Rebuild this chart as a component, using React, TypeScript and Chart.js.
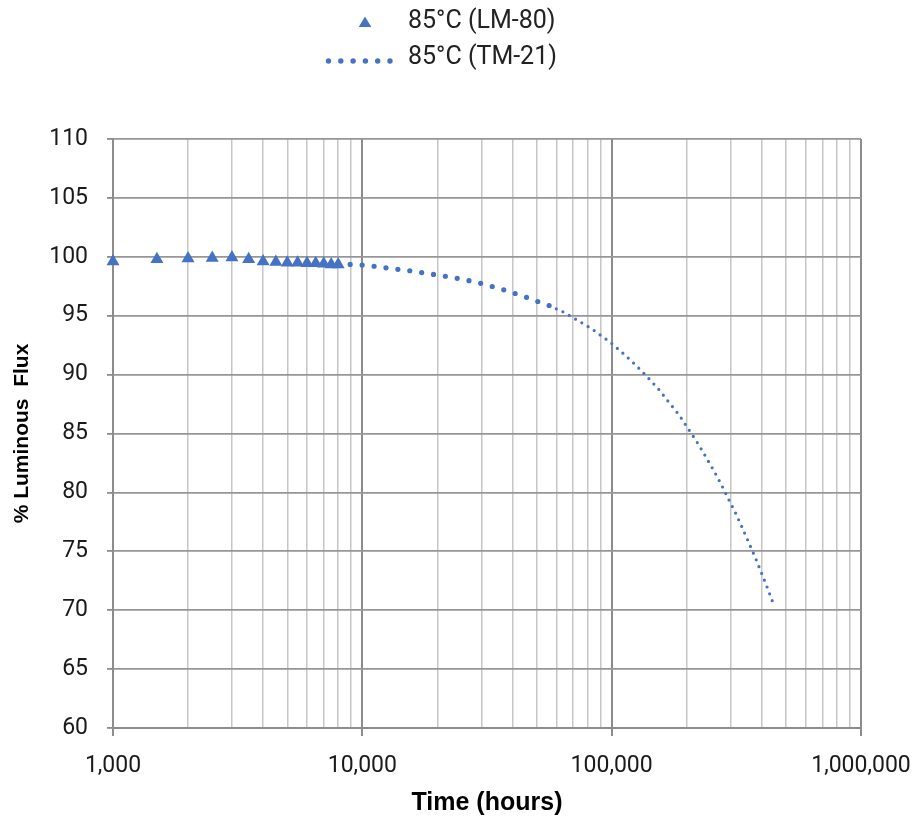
import { useEffect, useRef } from 'react';
import { Chart, registerables } from 'chart.js';

Chart.register(...registerables);

const lm80Label = '85°C (LM-80)';
const tm21Label = '85°C (TM-21)';

const lm80Hours = [1000, 1500, 2000, 2500, 3000, 3500, 4000, 4500, 5000, 5500, 6000, 6500, 7000, 7500, 8000];
const lm80Flux = [99.6, 99.8, 99.85, 99.9, 99.95, 99.8, 99.6, 99.55, 99.5, 99.5, 99.45, 99.45, 99.4, 99.35, 99.35];

const tm21Hours = [
  8000, 9300, 10500, 11700, 13000, 14600, 16300, 18300, 20400, 22800, 25400, 28400, 31600, 35300, 39400,
  43700, 48500, 56400, 64400, 73500, 83400, 94400, 100000, 112000, 125000, 139000, 154000, 169000, 186000,
  202000, 219000, 237000, 256000, 275000, 294000, 315000, 335000, 356000, 378000, 400000, 423000, 446000,
];
const tm21Flux = [
  99.38, 99.34, 99.26, 99.15, 99.0, 98.89, 98.75, 98.58, 98.43, 98.26, 98.07, 97.87, 97.6, 97.33, 97.0,
  96.7, 96.34, 95.85, 95.28, 94.57, 93.87, 93.04, 92.64, 91.74, 90.8, 89.8, 88.78, 87.7, 86.6,
  85.46, 84.33, 83.13, 81.9, 80.69, 79.44, 78.19, 76.94, 75.66, 74.39, 73.1, 71.8, 70.5,
];

const xGridValues = [
  1000, 2000, 3000, 4000, 5000, 6000, 7000, 8000, 9000,
  10000, 20000, 30000, 40000, 50000, 60000, 70000, 80000, 90000,
  100000, 200000, 300000, 400000, 500000, 600000, 700000, 800000, 900000,
  1000000,
];
const xLabelValues = [1000, 10000, 100000, 1000000];
const yMin = 60;
const yMax = 110;
const yStep = 5;

const xTitle = 'Time (hours)';
const yTitle = '% Luminous  Flux';

const BLUE = '#4472C4';
const MAJOR = '#8c8c8c';
const MINOR = '#c6c6c6';

const isMajorX = (v: number) => xLabelValues.some((m) => Math.abs(m - v) < 1e-6 * m);

const legendPlugin = {
  id: 'customLegend',
  afterDraw(chart: any) {
    const ctx = chart.ctx;
    const cx = chart.width / 2;
    ctx.save();
    ctx.fillStyle = BLUE;
    const tx = cx - 95.5;
    const ty = 22;
    ctx.beginPath();
    ctx.moveTo(tx, ty - 5.5);
    ctx.lineTo(tx + 6.3, ty + 5);
    ctx.lineTo(tx - 6.3, ty + 5);
    ctx.closePath();
    ctx.fill();
    for (let i = 0; i < 6; i++) {
      ctx.beginPath();
      ctx.arc(cx - 132 + i * 12.3, 61, 2.7, 0, Math.PI * 2);
      ctx.fill();
    }
    ctx.fillStyle = '#222';
    ctx.font = '25px Roboto';
    ctx.textBaseline = 'middle';
    ctx.textAlign = 'left';
    ctx.fillText(lm80Label, cx - 52.5, 22);
    ctx.fillText(tm21Label, cx - 52.5, 58);
    ctx.restore();
  },
};

export default function App() {
  const ref = useRef<HTMLCanvasElement | null>(null);
  useEffect(() => {
    document.body.style.margin = '0';
    if (!ref.current) return;
    const chart = new Chart(ref.current, {
      type: 'scatter',
      data: {
        datasets: [
          {
            label: lm80Label,
            data: lm80Hours.map((h, i) => ({ x: h, y: lm80Flux[i] })),
            pointStyle: 'triangle',
            pointRadius: 7.5,
            pointBackgroundColor: BLUE,
            pointBorderColor: BLUE,
            pointBorderWidth: 0,
            showLine: false,
            clip: false,
          } as any,
          {
            label: tm21Label,
            data: tm21Hours.map((h, i) => ({ x: h, y: tm21Flux[i] })),
            showLine: true,
            pointRadius: 0,
            borderColor: BLUE,
            borderWidth: 5,
            borderDash: [0, 12],
            borderCapStyle: 'round',
            tension: 0,
            segment: {
              borderWidth: (c: any) => (c.p0.parsed.x < 50000 ? 5.2 : 3.2),
              borderDash: (c: any) => (c.p0.parsed.x < 50000 ? [0, 12] : [0, 7.3]),
            },
          } as any,
        ],
      },
      options: {
        animation: false,
        responsive: false,
        layout: { padding: { top: 139, right: 60, bottom: 0, left: 0 } },
        plugins: {
          legend: { display: false },
          tooltip: { enabled: false },
        },
        scales: {
          x: {
            type: 'logarithmic',
            min: 1000,
            max: 1000000,
            afterBuildTicks: (scale: any) => {
              scale.ticks = xGridValues.map((v) => ({ value: v }));
            },
            afterFit: (scale: any) => {
              scale.height = 90;
              scale.paddingLeft = 0;
              scale.paddingRight = 0;
            },
            ticks: {
              autoSkip: false,
              maxRotation: 0,
              minRotation: 0,
              padding: 16,
              color: '#1a1a1a',
              font: { family: 'Roboto', size: 23 },
              callback: (v: any) => (isMajorX(Number(v)) ? Number(v).toLocaleString('en-US') : ''),
            },
            grid: {
              color: (c: any) => (c.tick && isMajorX(c.tick.value) ? MAJOR : MINOR),
              lineWidth: (c: any) => (c.tick && isMajorX(c.tick.value) ? 2 : 1.5),
              tickColor: (c: any) => (c.tick && isMajorX(c.tick.value) ? MAJOR : 'rgba(0,0,0,0)'),
              tickLength: 8,
            },
            border: { color: MAJOR, width: 2 },
            title: {
              display: true,
              text: xTitle,
              color: '#000',
              font: { family: 'Liberation Sans', size: 25, weight: 'bold' },
              padding: { top: 0, bottom: 0 },
            },
          },
          y: {
            min: yMin,
            max: yMax,
            afterFit: (scale: any) => {
              scale.width = 113;
              scale.paddingTop = 0;
              scale.paddingBottom = 0;
            },
            ticks: {
              stepSize: yStep,
              padding: 19,
              color: '#1a1a1a',
              font: { family: 'Roboto', size: 23 },
            },
            grid: {
              color: '#969696',
              lineWidth: 1.8,
              tickColor: MAJOR,
              tickLength: 6,
            },
            border: { color: MAJOR, width: 2 },
            title: {
              display: true,
              text: yTitle,
              color: '#000',
              font: { family: 'Liberation Sans', size: 21, weight: 'bold' },
              padding: { top: 10, bottom: 0 },
            },
          },
        },
      },
      plugins: [legendPlugin],
    });
    return () => chart.destroy();
  }, []);
  return <canvas ref={ref} width={921} height={818} style={{ display: 'block', width: 921, height: 818 }} />;
}
